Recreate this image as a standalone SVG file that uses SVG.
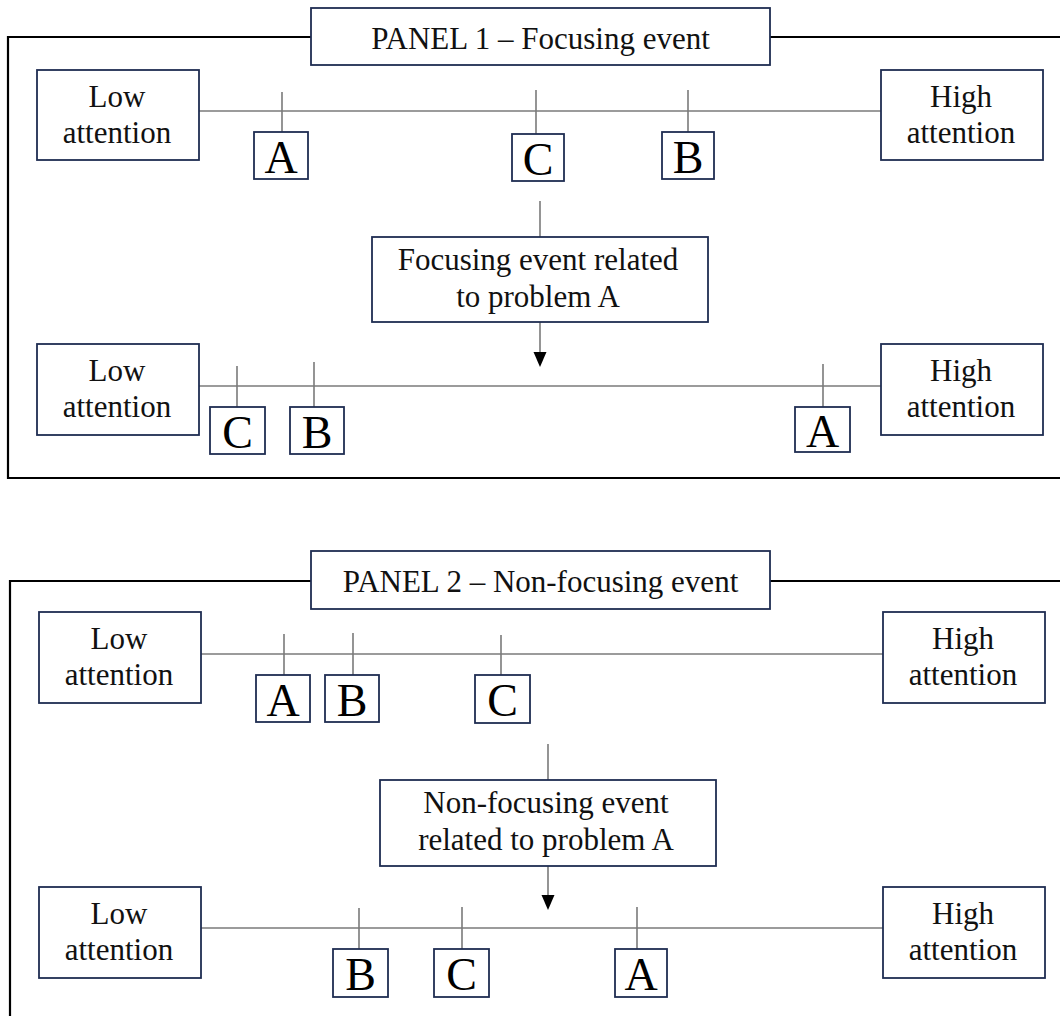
<svg xmlns="http://www.w3.org/2000/svg" width="1060" height="1016" viewBox="0 0 1060 1016">
<style>
.box{fill:#fff;stroke:#1f2d52;stroke-width:1.8}
.frame{fill:none;stroke:#000;stroke-width:2.2}
.ax{stroke:#7a7a7a;stroke-width:1.6;fill:none}
.t{font-family:"Liberation Serif","Times New Roman",serif;font-size:31px;fill:#111;text-anchor:middle}
.L{font-family:"Liberation Serif","Times New Roman",serif;font-size:46px;fill:#000;text-anchor:middle}
</style>
<rect width="1060" height="1016" fill="#fff"/>

<g id="frames">
<path class="frame" d="M1064,37 H8 V478 H1064"/>
<path class="frame" d="M1064,581 H10 V1020"/>
</g>

<g id="connectors">
<!-- panel 1 -->
<line class="ax" x1="199" y1="111" x2="881" y2="111"/>
<line class="ax" x1="282" y1="92" x2="282" y2="132"/>
<line class="ax" x1="536" y1="90" x2="536" y2="134"/>
<line class="ax" x1="688" y1="90" x2="688" y2="132"/>
<line class="ax" x1="540" y1="201" x2="540" y2="237"/>
<line class="ax" x1="540" y1="322" x2="540" y2="352"/>
<path d="M533.5,352 L546.5,352 L540,367 Z" fill="#000"/>
<line class="ax" x1="199" y1="386" x2="881" y2="386"/>
<line class="ax" x1="237" y1="366" x2="237" y2="407"/>
<line class="ax" x1="314" y1="362" x2="314" y2="407"/>
<line class="ax" x1="823" y1="364" x2="823" y2="407"/>
<!-- panel 2 -->
<line class="ax" x1="201" y1="654" x2="883" y2="654"/>
<line class="ax" x1="284" y1="634" x2="284" y2="675"/>
<line class="ax" x1="353" y1="633" x2="353" y2="675"/>
<line class="ax" x1="501" y1="635" x2="501" y2="675"/>
<line class="ax" x1="548" y1="744" x2="548" y2="780"/>
<line class="ax" x1="548" y1="866" x2="548" y2="895"/>
<path d="M541.5,895 L554.5,895 L548,910 Z" fill="#000"/>
<line class="ax" x1="201" y1="928" x2="883" y2="928"/>
<line class="ax" x1="359" y1="908" x2="359" y2="949"/>
<line class="ax" x1="462" y1="907" x2="462" y2="949"/>
<line class="ax" x1="637" y1="907" x2="637" y2="949"/>
</g>

<!-- Panel 1 nodes -->
<g id="p1-title"><rect class="box" x="311" y="8" width="459" height="57"/><text class="t" x="540.5" y="49">PANEL 1 – Focusing event</text></g>
<g id="p1-low1"><rect class="box" x="37" y="70" width="162" height="90"/><text class="t" x="117" y="107">Low</text><text class="t" x="117" y="143">attention</text></g>
<g id="p1-high1"><rect class="box" x="881" y="70" width="162" height="90"/><text class="t" x="961" y="107">High</text><text class="t" x="961" y="143">attention</text></g>
<g id="p1-A1"><rect class="box" x="254" y="132" width="54" height="47"/><text class="L" x="281" y="173">A</text></g>
<g id="p1-C1"><rect class="box" x="512" y="134" width="52" height="47"/><text class="L" x="538" y="175">C</text></g>
<g id="p1-B1"><rect class="box" x="662" y="132" width="52" height="47"/><text class="L" x="688" y="173">B</text></g>
<g id="p1-event"><rect class="box" x="372" y="237" width="336" height="85"/><text class="t" x="538" y="270">Focusing event related</text><text class="t" x="538" y="307">to problem A</text></g>
<g id="p1-low2"><rect class="box" x="37" y="344" width="162" height="91"/><text class="t" x="117" y="381">Low</text><text class="t" x="117" y="417">attention</text></g>
<g id="p1-high2"><rect class="box" x="881" y="344" width="162" height="91"/><text class="t" x="961" y="381">High</text><text class="t" x="961" y="417">attention</text></g>
<g id="p1-C2"><rect class="box" x="210" y="407" width="55" height="47"/><text class="L" x="237.5" y="448">C</text></g>
<g id="p1-B2"><rect class="box" x="290" y="407" width="54" height="47"/><text class="L" x="317" y="448">B</text></g>
<g id="p1-A2"><rect class="box" x="795" y="407" width="55" height="45"/><text class="L" x="822.5" y="447">A</text></g>

<!-- Panel 2 nodes -->
<g id="p2-title"><rect class="box" x="311" y="551" width="459" height="58"/><text class="t" x="540.5" y="592">PANEL 2 – Non-focusing event</text></g>
<g id="p2-low1"><rect class="box" x="39" y="612" width="162" height="91"/><text class="t" x="119" y="649">Low</text><text class="t" x="119" y="685">attention</text></g>
<g id="p2-high1"><rect class="box" x="883" y="612" width="162" height="91"/><text class="t" x="963" y="649">High</text><text class="t" x="963" y="685">attention</text></g>
<g id="p2-A1"><rect class="box" x="256" y="675" width="54" height="47"/><text class="L" x="283" y="716">A</text></g>
<g id="p2-B1"><rect class="box" x="325" y="675" width="54" height="47"/><text class="L" x="352" y="716">B</text></g>
<g id="p2-C1"><rect class="box" x="475" y="675" width="55" height="48"/><text class="L" x="502.5" y="716">C</text></g>
<g id="p2-event"><rect class="box" x="380" y="780" width="336" height="86"/><text class="t" x="546" y="813">Non-focusing event</text><text class="t" x="546" y="850">related to problem A</text></g>
<g id="p2-low2"><rect class="box" x="39" y="887" width="162" height="91"/><text class="t" x="119" y="924">Low</text><text class="t" x="119" y="960">attention</text></g>
<g id="p2-high2"><rect class="box" x="883" y="887" width="162" height="91"/><text class="t" x="963" y="924">High</text><text class="t" x="963" y="960">attention</text></g>
<g id="p2-B2"><rect class="box" x="333" y="949" width="55" height="48"/><text class="L" x="360.5" y="990">B</text></g>
<g id="p2-C2"><rect class="box" x="434" y="949" width="55" height="48"/><text class="L" x="461.5" y="990">C</text></g>
<g id="p2-A2"><rect class="box" x="615" y="949" width="52" height="48"/><text class="L" x="641" y="990">A</text></g>
</svg>
